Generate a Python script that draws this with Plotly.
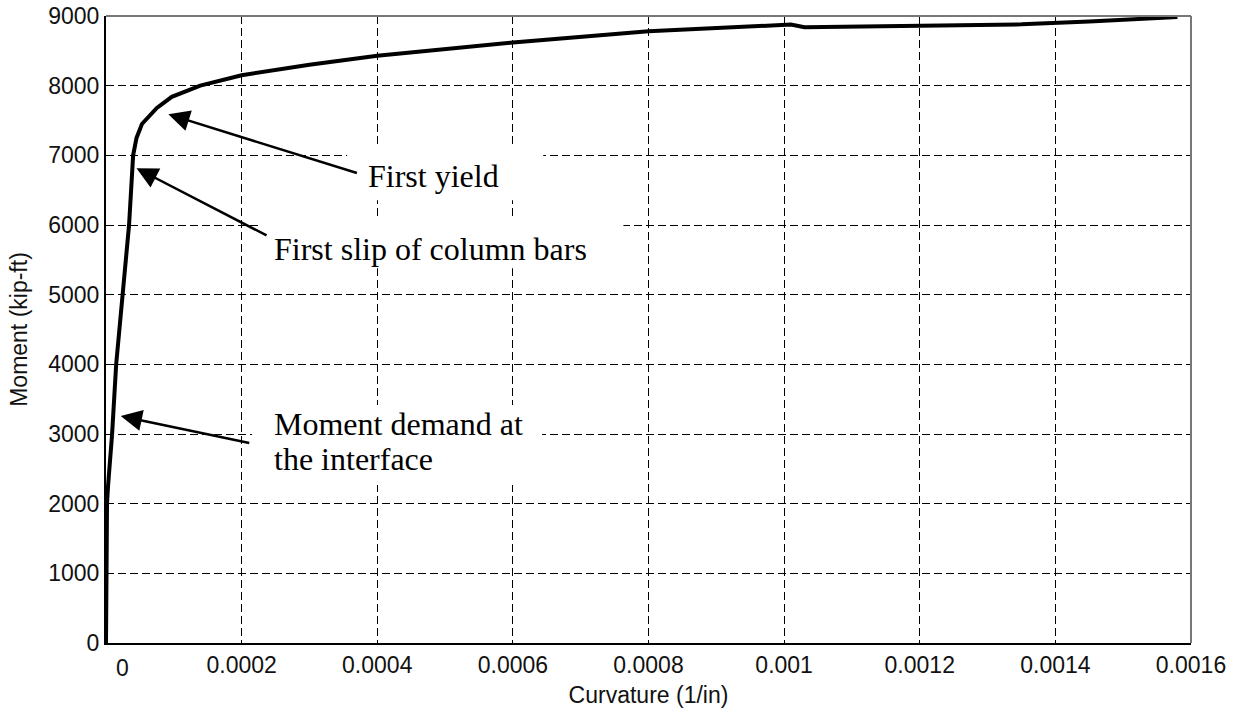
import plotly.graph_objects as go

# Moment-curvature response of the column section
curvature = [0.0, 0.0000005, 0.0000015, 0.000003, 0.000009, 0.000015, 0.000024,
             0.000034, 0.000040, 0.000045, 0.000053, 0.000075, 0.000097, 0.000139,
             0.0002, 0.0003, 0.0004, 0.0006, 0.0008, 0.00098, 0.00101, 0.00103,
             0.0012, 0.00135, 0.00145, 0.00158]
moment = [0, 1000, 2000, 2250, 3000, 4000, 5000,
          6000, 7000, 7250, 7450, 7680, 7840, 8000,
          8150, 8300, 8430, 8620, 8780, 8870, 8878, 8840,
          8855, 8880, 8920, 8985]

x_tick_vals = [0, 0.0002, 0.0004, 0.0006, 0.0008, 0.001, 0.0012, 0.0014, 0.0016]
x_tick_text = ["", "0.0002", "0.0004", "0.0006", "0.0008", "0.001", "0.0012", "0.0014", "0.0016"]
y_tick_vals = [0, 1000, 2000, 3000, 4000, 5000, 6000, 7000, 8000, 9000]

# Callouts: label text, arrow tip (curvature, moment), arrow tail (curvature, moment)
callout_labels = ["First yield", "First slip of column bars", "Moment demand at"]
callout_label_2nd_line = "the interface"
tip_curv = [0.0000919, 0.0000450, 0.0000217]
tip_mom = [7590, 6815, 3257]
tail_curv = [0.0003722, 0.000239, 0.0002135]
tail_mom = [6739, 5839, 2865]

SANS = "Liberation Sans, Arial, sans-serif"
SERIF = "Liberation Serif, Times New Roman, serif"
TXT = "#111111"

fig = go.Figure()

# white boxes behind the callout text (hide the grid)
boxes = [
    (0.0003556, 0.0006447, 6356, 7145),
    (0.000230, 0.000763, 5380, 6098),
    (0.0002154, 0.000643, 2267, 3415),
]
for x0, x1, y0, y1 in boxes:
    fig.add_shape(type="rect", xref="x", yref="y", x0=x0, x1=x1, y0=y0, y1=y1,
                  fillcolor="white", line=dict(width=0), layer="between")

fig.add_trace(go.Scatter(
    x=curvature, y=moment, mode="lines",
    line=dict(color="black", width=4),
    showlegend=False, hoverinfo="skip",
))

# arrows
for i in range(3):
    fig.add_annotation(
        x=tip_curv[i], y=tip_mom[i], ax=tail_curv[i], ay=tail_mom[i],
        xref="x", yref="y", axref="x", ayref="y", text="",
        showarrow=True, arrowhead=2, arrowsize=1.7, arrowwidth=2.5, arrowcolor="black",
    )

# callout text
label_pos = [(0.0003836, 6700), (0.0002449, 5653), (0.0002445, 3142)]
for text, (lx, ly) in zip(callout_labels, label_pos):
    fig.add_annotation(x=lx, y=ly, xref="x", yref="y", text=text, showarrow=False,
                       xanchor="left", yanchor="middle",
                       font=dict(family=SERIF, size=32, color="black"))
fig.add_annotation(x=0.0002445, y=2640, xref="x", yref="y", text=callout_label_2nd_line,
                   showarrow=False, xanchor="left", yanchor="middle",
                   font=dict(family=SERIF, size=32, color="black"))

# zero label on the curvature axis sits to the right of the corner
fig.add_annotation(x=0, y=0, xref="x", yref="paper", text="0", showarrow=False,
                   xanchor="center", yanchor="top", xshift=16, yshift=-10,
                   font=dict(family=SANS, size=23, color=TXT))

# top and right frame edges in grey
fig.add_shape(type="line", xref="paper", yref="paper", x0=0, x1=1, y0=1, y1=1,
              line=dict(color="#777777", width=2), layer="above")
fig.add_shape(type="line", xref="paper", yref="paper", x0=1, x1=1, y0=0, y1=1,
              line=dict(color="#777777", width=2), layer="above")

fig.update_xaxes(
    range=[0, 0.0016], tickvals=x_tick_vals, ticktext=x_tick_text,
    showgrid=True, gridcolor="black", gridwidth=1, griddash="8px,4px",
    showline=True, linecolor="black", linewidth=2, zeroline=False, automargin=False,
    ticks="", tickfont=dict(family=SANS, size=23, color=TXT),
    title=dict(text="Curvature (1/in)", font=dict(family=SANS, size=23, color=TXT), standoff=10),
)
fig.update_yaxes(
    range=[0, 9000], tickvals=y_tick_vals,
    showgrid=True, gridcolor="black", gridwidth=1, griddash="8px,4px",
    showline=True, linecolor="black", linewidth=2, zeroline=False, automargin=False,
    ticks="", tickfont=dict(family=SANS, size=23, color=TXT),
    title=dict(text="Moment (kip-ft)", font=dict(family=SANS, size=23, color=TXT), standoff=14),
)

fig.update_layout(
    width=1239, height=710,
    margin=dict(l=106, r=48, t=16, b=67),
    plot_bgcolor="white", paper_bgcolor="white",
    showlegend=False,
)

fig.write_html("out.html")
